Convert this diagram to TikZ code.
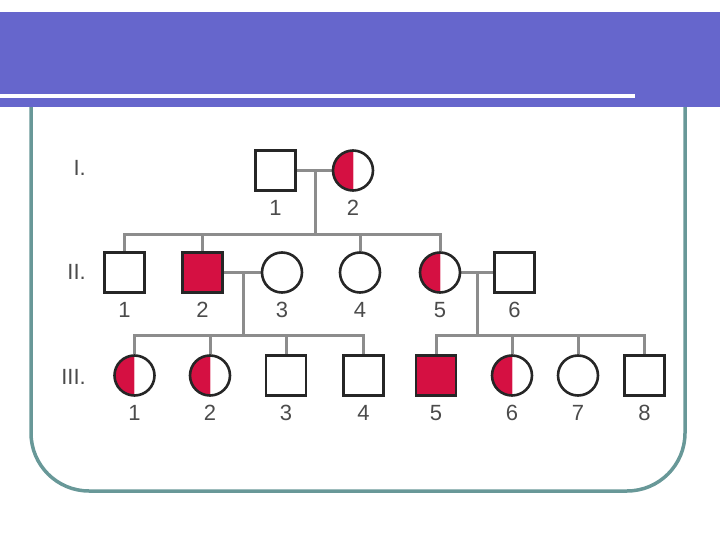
\documentclass[tikz,border=0pt]{standalone}
\usepackage{fontspec}
\setmainfont{Liberation Sans}
\usetikzlibrary{positioning}
\definecolor{slideblue}{RGB}{102,102,204}
\definecolor{frameteal}{RGB}{104,152,152}
\definecolor{affectred}{RGB}{213,16,66}
\definecolor{linegray}{RGB}{140,140,140}
\definecolor{numgray}{RGB}{75,75,75}
\pgfdeclarelayer{bg}
\pgfsetlayers{bg,main}

\begin{document}
\begin{tikzpicture}[x=1pt, y=-1pt,
  male/.style={draw=black!85, line width=2.6pt, fill=white, minimum size=40pt, inner sep=0pt},
  female/.style={male, circle},
  affected/.style={fill=affectred},
  carrier/.style={path picture={
    \fill[affectred] (path picture bounding box.south west) rectangle (path picture bounding box.north);
    \draw[affectred!30, line width=1pt] (path picture bounding box.north) -- (path picture bounding box.south);}},
  link/.style={draw=linegray, line width=3pt},
  num/.style={font=\fontsize{22}{24}\selectfont, text=numgray, inner sep=0pt},
  gen/.style={num, anchor=east}]
\useasboundingbox (0,0) rectangle (720,540);

% slide frame and title band
\draw[frameteal, line width=3.5pt, rounded corners=58pt] (31,60) -- (31,491) -- (685,491) -- (685,60);
\fill[slideblue] (0,12) rectangle (720,107);
\fill[white] (0,94.5) rectangle (635,98.5);

% generations
\node[gen] (gI) at (86,168) {I.};
\node[gen] (gII) at (86,272) {II.};
\node[gen] (gIII) at (86,377) {III.};

% individuals
\node[male] (I1) at (275.5,170.5) {};
\node[female, carrier] (I2) at (353,170.5) {};

\node[male] (II1) at (124.5,272.5) {};
\node[male, affected] (II2) at (202.5,272.5) {};
\node[female] (II3) at (282,272.5) {};
\node[female] (II4) at (360,272.5) {};
\node[female, carrier] (II5) at (440,272.5) {};
\node[male] (II6) at (514.5,272.5) {};

\node[female, carrier] (III1) at (134.5,375.5) {};
\node[female, carrier] (III2) at (210,375.5) {};
\node[male] (III3) at (286,375.5) {};
\node[male] (III4) at (363.5,375.5) {};
\node[male, affected] (III5) at (436,375.5) {};
\node[female, carrier] (III6) at (512,375.5) {};
\node[female] (III7) at (578,375.5) {};
\node[male] (III8) at (644.5,375.5) {};

\foreach \g/\k in {I/1,I/2,II/1,II/2,II/3,II/4,II/5,II/6,III/1,III/2,III/3,III/4,III/5,III/6,III/7,III/8}
  \node[num, below=8pt of \g\k] (n\g\k) {\k};

% marriages and offspring
\coordinate (mI) at (315,170.5);
\coordinate (sI) at (315,234);
\coordinate (mII) at (243,272.5);
\coordinate (mIIb) at (477,272.5);
\coordinate (sII) at (243,335);
\coordinate (sIIb) at (477,335);

\begin{pgfonlayer}{bg}
\draw[link] (I1) -- (I2);
\draw[link] (mI) -- (sI);
\draw[link] (II1.north) |- (sI) -| (II5.north);
\foreach \c in {II2,II4} \draw[link] (\c.north) -- (\c.north |- sI);

\draw[link] (II2) -- (II3);
\draw[link] (mII) -- (sII);
\draw[link] (III1.north) |- (sII) -| (III4.north);
\foreach \c in {III2,III3} \draw[link] (\c.north) -- (\c.north |- sII);

\draw[link] (II5) -- (II6);
\draw[link] (mIIb) -- (sIIb);
\draw[link] (III5.north) |- (sIIb) -| (III8.north);
\foreach \c in {III6,III7} \draw[link] (\c.north) -- (\c.north |- sIIb);
\end{pgfonlayer}
\end{tikzpicture}
\end{document}
